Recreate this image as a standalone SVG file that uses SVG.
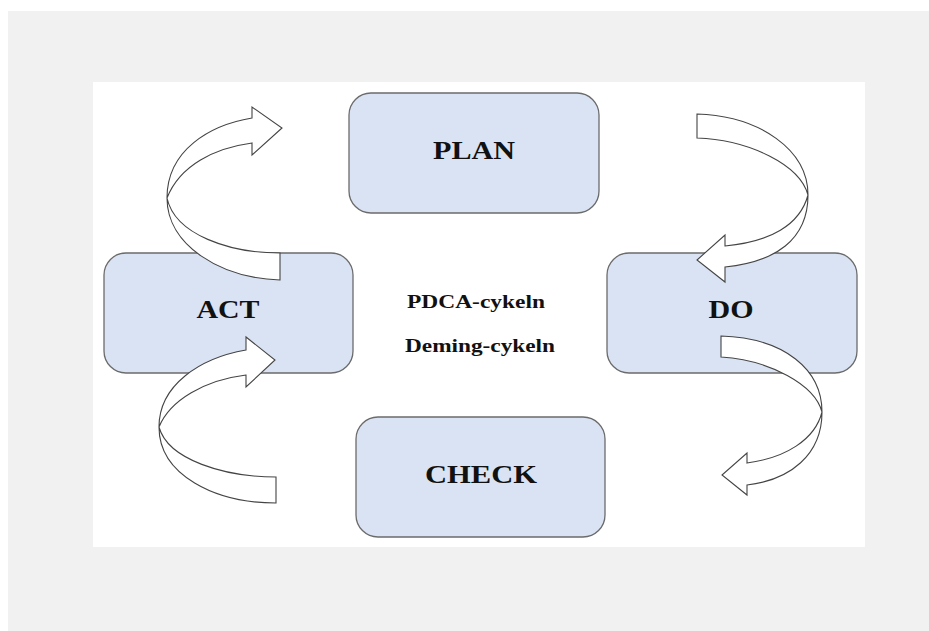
<svg xmlns="http://www.w3.org/2000/svg" width="929" height="631" viewBox="0 0 929 631">
<style>
.box{fill:#dae3f3;stroke:#6b6b6b;stroke-width:1.3}
.lbl{font-family:"Liberation Serif","Times New Roman",serif;font-weight:bold;font-size:26px;fill:#111;text-anchor:middle}
.mid{font-family:"Liberation Serif","Times New Roman",serif;font-weight:bold;font-size:19px;fill:#111;text-anchor:middle}
.arr{fill:#ffffff;stroke:#444;stroke-width:1.1;stroke-linejoin:miter}
</style>
<rect x="8" y="11" width="921" height="620" fill="#f1f1f1"/>
<rect x="93" y="82" width="772" height="465" fill="#ffffff"/>
<g id="plan"><rect class="box" x="349" y="93" width="250" height="120" rx="22"/><text class="lbl" x="474" y="159" textLength="82" lengthAdjust="spacingAndGlyphs">PLAN</text></g>
<g id="act"><rect class="box" x="104" y="253" width="249" height="120" rx="22"/><text class="lbl" x="228" y="318" textLength="63" lengthAdjust="spacingAndGlyphs">ACT</text></g>
<g id="do"><rect class="box" x="607" y="253" width="250" height="120" rx="22"/><text class="lbl" x="731" y="318" textLength="45" lengthAdjust="spacingAndGlyphs">DO</text></g>
<g id="check"><rect class="box" x="356" y="417" width="249" height="120" rx="22"/><text class="lbl" x="481" y="483" textLength="112" lengthAdjust="spacingAndGlyphs">CHECK</text></g>
<g id="center"><text class="mid" x="476" y="308" textLength="138" lengthAdjust="spacingAndGlyphs">PDCA-cykeln</text><text class="mid" x="480" y="352" textLength="150" lengthAdjust="spacingAndGlyphs">Deming-cykeln</text></g>
<g id="connectors">
<path class="arr" d="M280,253 C230,253 175,235 167,198 C180,165 215,148 252,143 L252,155 L282,128 L252,107 L252,118 C210,125 167,150 167,198 C167,245 220,278 280,280 Z"/>
<path class="arr" d="M276,477 C225,477 168,460 159,427 C170,400 205,380 246,375 L246,387 L275,360 L246,337 L246,350 C200,358 159,385 159,427 C159,475 215,503 276,503 Z"/>
<path class="arr" d="M697,114 C760,116 808,150 808,195 C808,240 775,262 725,267 L725,282 L697,260 L725,235 L725,246 C770,242 800,225 808,195 C800,165 750,140 697,138 Z"/>
<path class="arr" d="M721,336 C785,338 822,370 822,412 C822,455 790,480 747,485 L747,495 L722,475 L747,453 L747,463 C785,458 815,440 822,412 C815,385 770,360 721,357 Z"/>
</g>
</svg>
